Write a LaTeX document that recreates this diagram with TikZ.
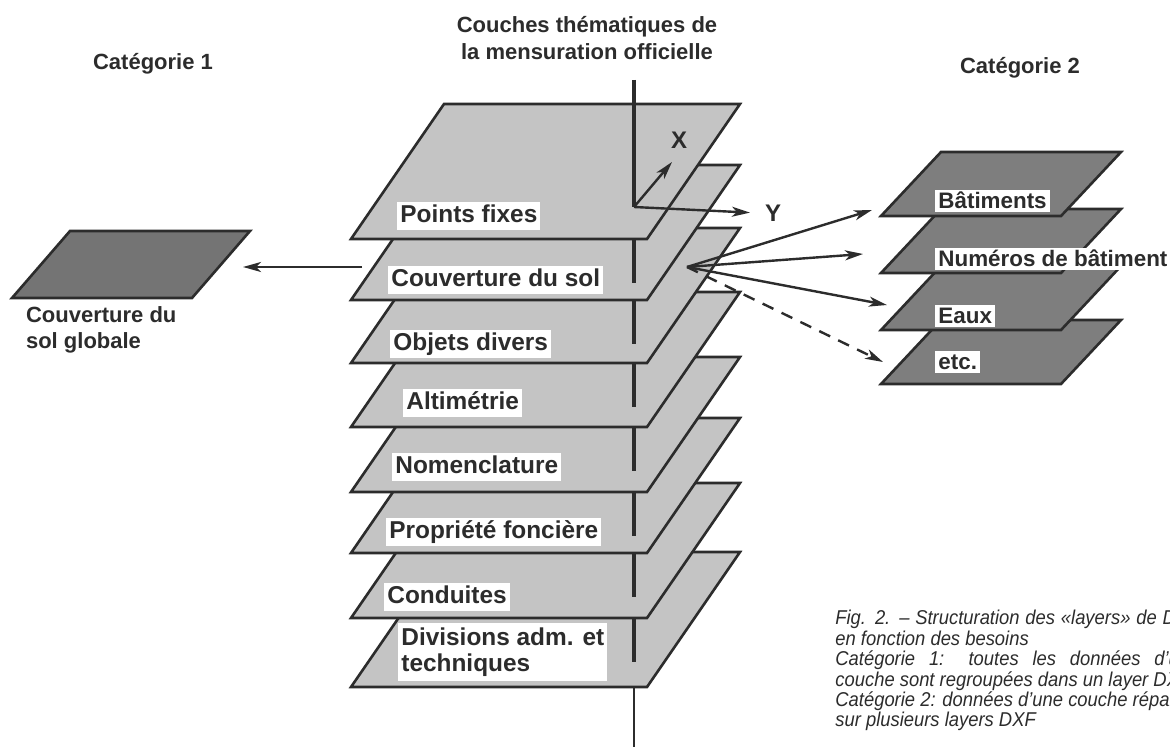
\documentclass[tikz,border=0pt]{standalone}
\usepackage{fontspec}
\setmainfont{Liberation Sans}
\newfontfamily\capfont[FakeStretch=0.92]{Liberation Sans}
\usetikzlibrary{arrows.meta}
\definecolor{ink}{HTML}{2C2C2C}
\definecolor{lightlayer}{HTML}{C4C4C4}
\definecolor{darklayer}{HTML}{7E7E7E}
\definecolor{globlayer}{HTML}{747474}
\tikzset{layer/.style={draw=ink,line width=1.3pt,line join=miter,fill=lightlayer}}
\tikzset{sublayer/.style={layer,fill=darklayer}}
\tikzset{globallayer/.style={layer,fill=globlayer}}
\tikzset{laylabel/.style={fill=white,anchor=west,text=ink,align=left,
                          inner xsep=1.5pt,inner ysep=1pt,
                          text height=9.5pt,text depth=2.8pt,
                          font=\fontsize{12.2}{13}\selectfont\bfseries}}
\tikzset{sublabel/.style={laylabel,text height=9pt,text depth=1pt,inner ysep=0.5pt,
                          font=\fontsize{11.2}{13}\selectfont\bfseries}}
\tikzset{title/.style={text=ink,align=center,
                       font=\fontsize{11}{13.5}\selectfont\bfseries}}
\tikzset{link/.style={draw=ink,line width=1.2pt,
                      -{Stealth[length=9pt,width=5pt,inset=2.5pt]}}}
\tikzset{axis/.style={draw=ink,line width=1.6pt}}
% parallelogram: style, bottom-left x, bottom y, width, skew, height
\newcommand{\drawlayer}[6]{\draw[#1] (#2,#3) -- ++(#4,0) -- ++(#5,-#6)
                                     -- ++(-#4,0) -- cycle;}

\begin{document}
\begin{tikzpicture}[x=0.5pt,y=-0.5pt]
    \fill[white] (0,0) rectangle (1170,747);
    \useasboundingbox (0,0) rectangle (1170,747);
    % Titles
    \node[title] (cat1) at (153,64) {Catégorie 1};
    \node[title] (couches) at (587,38) {Couches thématiques de\\la mensuration officielle};
    \node[title] (cat2) at (1020,68) {Catégorie 2};
    % Draw thematic layers, bottom one first
    \foreach \yb in {687,618,553,492,427,363,300,239}{%
          \drawlayer{layer}{351}{\yb}{296}{93}{135}
        }
    % Vertical axis through the stack
    \draw[axis] (634,80) -- (634,207) coordinate (origin);
    \foreach \ya in {239,300,363,427,492,553,618}{%
          \draw[axis] (634,\ya) -- ++(0,44);
        }
    \draw[axis,line width=1.2pt] (634,687) -- (634,747);
    % Layer names
    \foreach \lab/\lx/\ly [count=\li] in {Points fixes/397/216,
          Couverture du sol/388/280, Objets divers/390/344,
          Altimétrie/403/403, Nomenclature/392/467,
          Propriété foncière/386/532, Conduites/384/597}{%
          \node[laylabel] (lay\li) at (\lx,\ly) {\lab};
        }
    \node[laylabel,text height=,text depth=,inner ysep=2.5pt] (lay8) at (398,652)
          {Divisions adm. et\\techniques};
    % X and Y axes
    \coordinate (xtip) at (672,162);
    \node[title,font=\fontsize{12}{13}\selectfont\bfseries] (xlab) at (679,140) {X};
    \node[title,font=\fontsize{12}{13}\selectfont\bfseries] (ylab) at (773,213) {Y};
    \draw[link] (origin) -- (xtip);
    \draw[link,shorten >=4pt] (origin) -- (ylab.west);
    % Category 1
    \drawlayer{globallayer}{12}{298}{180}{58}{67}
    \node[anchor=west,text=ink,align=left,
          font=\fontsize{11}{13}\selectfont\bfseries] (glob) at (19,330)
          {Couverture du\\sol globale};
    \coordinate (c1from) at (362,267);
    \coordinate (c1to) at (243,267);
    \draw[link] (c1from) -- (c1to);
    % Category 2
    \foreach \yb in {384,330,273,216}{%
          \drawlayer{sublayer}{881}{\yb}{180}{60}{64}
        }
    \foreach \lab/\ly [count=\si] in {Bâtiments/201, Numéros de bâtiment/259,
          Eaux/316, etc./362}{%
          \node[sublabel] (sub\si) at (935,\ly) {\lab};
        }
    % Fan of arrows from Couverture du sol
    \coordinate (fan) at (687,267);
    \coordinate (tip1) at (872,210);
    \coordinate (tip2) at (863,254);
    \coordinate (tip3) at (887,305);
    \coordinate (tip4) at (883,362);
    \foreach \t in {1,2,3}{%
          \draw[link] (fan) -- (tip\t);
        }
    \draw[link,dash pattern=on 6pt off 4.5pt] (fan) -- (tip4);
    % Caption
    \node[anchor=north west,inner sep=0pt,text width=182pt,align=justify,text=ink,
          font=\capfont\fontsize{10}{10.2}\selectfont\itshape] (caption) at (835,610)
          {Fig. 2. – Structuration des «layers» de DXF\linebreak
           en fonction des besoins\par
           Catégorie 1: toutes les données d’une\linebreak
           couche sont regroupées dans un layer DXF\par
           \mbox{Catégorie 2: données d’une couche réparties}\newline
           sur plusieurs layers DXF};
\end{tikzpicture}
\end{document}
